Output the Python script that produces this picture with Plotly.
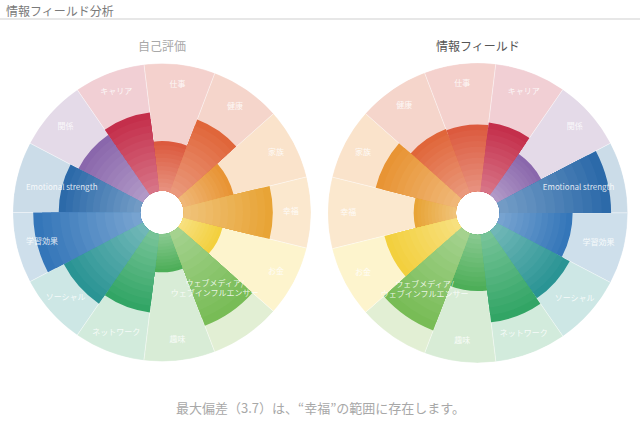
import plotly.graph_objects as go

# ---- data ----
categories = ["幸福", "家族", "健康", "仕事", "キャリア", "関係", "Emotional strength",
              "学習効果", "ソーシャル", "ネットワーク", "趣味",
              "ウェブメディア/ウェブインフルエンサー", "お金"]
label_text = ["幸福", "家族", "健康", "仕事", "キャリア", "関係", "Emotional strength",
              "学習効果", "ソーシャル", "ネットワーク", "趣味",
              "ウェブメディア/<br>ウェブインフルエンサー", "お金"]
label_r = [8.4, 8.4, 8.4, 8.4, 8.4, 8.4, 6.4, 8.0, 8.4, 8.4, 8.4, 5.6, 8.4]
self_eval = [7.0, 4.1, 6.1, 3.9, 6.2, 5.7, 6.4, 8.4, 7.0, 6.2, 3.0, 7.8, 3.2]
info_field = [3.3, 6.5, 5.3, 5.2, 5.4, 3.9, 8.7, 5.7, 6.4, 6.9, 4.4, 8.1, 5.8]
full_scale = [10] * len(categories)

dark_colors = ["#E8A436", "#E89434", "#E0663A", "#DC5A3E", "#C42F4B", "#8A67AC", "#2C6AA9",
               "#3476B9", "#2A9494", "#32A565", "#4DAE58", "#78BC56", "#F3D03E"]
light_colors = ["#FBE8CE", "#FAE3CB", "#F5D5CB", "#F4D1CD", "#F1CFD4", "#E4DAE8", "#CBDCE8",
                "#CEDFEB", "#CDE7E5", "#D2EBDC", "#D8ECD6", "#E2EFD4", "#FDF4CD"]

titles = ["自己評価", "情報フィールド"]
header = "情報フィールド分析"
footer = "最大偏差（3.7）は、“幸福”の範囲に存在します。"

N_SHADES = 12
FONT = "Noto Sans CJK JP, Noto Sans, sans-serif"


def hex2rgb(h):
    h = h.lstrip("#")
    return [int(h[i:i + 2], 16) for i in (0, 2, 4)]


def mix_rgb(a, b, t):
    return [a[i] + (b[i] - a[i]) * t for i in range(3)]


def to_css(c):
    return "rgb(%d,%d,%d)" % tuple(round(x) for x in c)


fig = go.Figure()


def add_chart(values, polar):
    fig.add_trace(go.Barpolar(
        r=full_scale, theta=categories, subplot=polar,
        marker=dict(color=light_colors, line=dict(color="rgba(255,255,255,0.6)", width=0.6)),
        hoverinfo="skip", showlegend=False))
    # gradient: full bar (darkest) first, successively shorter & lighter bars on top
    for j in range(N_SHADES):
        frac = 1 - j / N_SHADES
        rs = [v * frac for v in values]
        cols = []
        for c in dark_colors:
            outer = hex2rgb(c)
            inner = mix_rgb(outer, [255, 255, 255], 0.36)
            cols.append(to_css(mix_rgb(inner, outer, frac)))
        fig.add_trace(go.Barpolar(
            r=rs, theta=categories, subplot=polar,
            marker=dict(color=cols, line=dict(width=0)),
            hoverinfo="skip", showlegend=False))
    fig.add_trace(go.Scatterpolar(
        r=label_r, theta=categories, subplot=polar, mode="text",
        text=label_text, textfont=dict(color="rgba(255,255,255,0.85)", size=8, family=FONT),
        hoverinfo="skip", showlegend=False))


add_chart(self_eval, "polar")
add_chart(info_field, "polar2")

common_polar = dict(
    hole=0.145, bargap=0, barmode="overlay", bgcolor="rgba(0,0,0,0)",
    radialaxis=dict(visible=False, range=[0, 10]),
)

fig.update_layout(
    width=640, height=422,
    margin=dict(l=0, r=0, t=0, b=0),
    paper_bgcolor="white", plot_bgcolor="white",
    font=dict(family=FONT),
    polar=dict(domain=dict(x=[0.020, 0.486], y=[0.142, 0.851]),
               angularaxis=dict(visible=False, type="category", direction="counterclockwise",
                                rotation=0, categoryarray=categories),
               **common_polar),
    polar2=dict(domain=dict(x=[0.512, 0.981], y=[0.140, 0.851]),
                angularaxis=dict(visible=False, type="category", direction="clockwise",
                                 rotation=180, categoryarray=categories),
                **common_polar),
    shapes=[dict(type="line", xref="paper", yref="paper", x0=0, x1=1,
                 y0=1 - 19 / 422, y1=1 - 19 / 422, line=dict(color="#CFCFCF", width=1))],
    annotations=[
        dict(text=header, x=0.006, y=1 - 10 / 422, xref="paper", yref="paper",
             xanchor="left", yanchor="middle", showarrow=False,
             font=dict(size=12, color="#7A7A7A", family=FONT)),
        dict(text=titles[0], x=162 / 640, y=1 - 45 / 422, xref="paper", yref="paper",
             xanchor="center", yanchor="middle", showarrow=False,
             font=dict(size=12, color="#A8A8A8", family=FONT)),
        dict(text=titles[1], x=478 / 640, y=1 - 45 / 422, xref="paper", yref="paper",
             xanchor="center", yanchor="middle", showarrow=False,
             font=dict(size=12, color="#555555", family=FONT)),
        dict(text=footer, x=0.5, y=1 - 407 / 422, xref="paper", yref="paper",
             xanchor="center", yanchor="middle", showarrow=False,
             font=dict(size=13, color="#A8A8A8", family=FONT)),
    ],
)

fig.write_html("out.html", config={"displayModeBar": False},
               post_script="document.body.style.margin='0';document.body.style.padding='0';")
